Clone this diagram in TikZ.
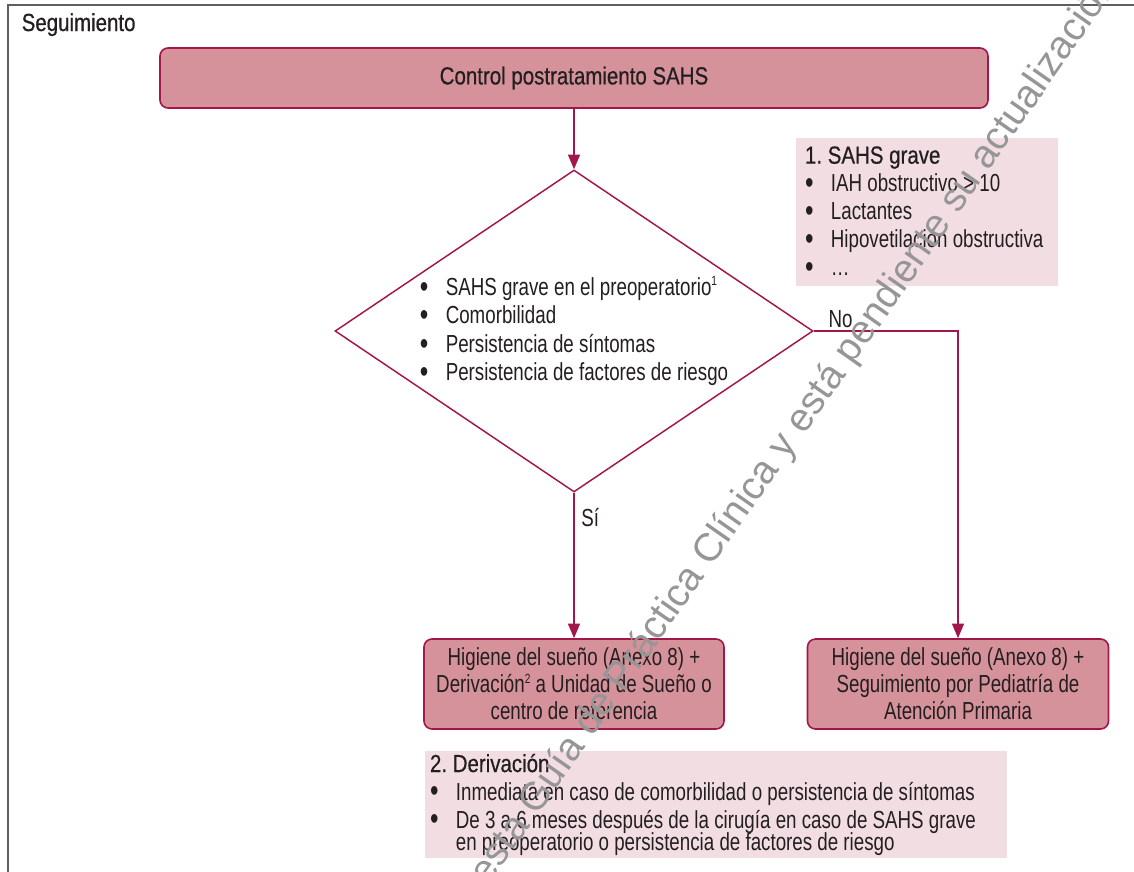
\documentclass[tikz,border=0pt]{standalone}
\usepackage{fontspec}
\setmainfont{Liberation Sans}[FakeStretch=0.76]
\newfontfamily\headfont{Liberation Sans}[FakeStretch=0.83,FakeBold=0.6]
\newfontfamily\wmfont{Liberation Sans}
\usepackage{xcolor}
\usetikzlibrary{shapes.geometric,arrows.meta}
\definecolor{boxfill}{RGB}{214,146,155}
\definecolor{boxline}{RGB}{163,22,76}
\definecolor{notefill}{RGB}{242,222,226}
\definecolor{txt}{RGB}{35,31,32}
\definecolor{frameline}{RGB}{95,95,95}
\definecolor{wmark}{RGB}{150,150,150}
\newcommand{\itm}{\makebox[1.05em][l]{\raisebox{-0.15ex}{\fontsize{24}{24}\selectfont\textbullet}}}
\newcommand{\sups}[1]{\raisebox{0.75ex}{\fontsize{10}{10}\selectfont #1}}
\newcommand{\bodysize}{\fontsize{18.5}{20.25}\selectfont}
\frenchspacing

\begin{document}
\begin{tikzpicture}[x=0.75pt,y=0.75pt,yscale=-1,xscale=1,
  every node/.style={text=txt},
  procbox/.style={draw=boxline,fill=boxfill,line width=1.2pt,rounded corners=6pt,align=center,inner sep=0pt,font=\bodysize},
  notebox/.style={fill=notefill,align=flush left,inner sep=0pt,font=\fontsize{18.5}{21}\selectfont},
  decision/.style={diamond,draw=boxline,line width=1.1pt,inner sep=0pt,minimum width=358.5pt,minimum height=241.5pt},
  flow/.style={draw=boxline,line width=1.1pt,-{Triangle[length=11pt,width=9pt]}}]
\useasboundingbox (0,0) rectangle (1134,871);
\fill[white] (0,0) rectangle (1134,871);

%Shape: Frame
\draw[frameline,line width=1.1pt] (8,890) -- (8,5) -- (1150,5);

% Text Node
\node[anchor=base west,font=\headfont\fontsize{18.5}{20}\selectfont] (seg) at (17,31) {Seguimiento};

%Shape: Rounded Rectangle
\node[procbox,minimum width=621pt,minimum height=45pt,font=\headfont\fontsize{18.5}{20}\selectfont] (ctrl) at (574,78) {Control postratamiento SAHS};

%Shape: Diamond
\node[decision] (chk) at (574,331) {};
% Text Node
\node[align=left,inner sep=0pt,font=\fontsize{18.5}{21.4}\selectfont] (crit) at (574,331) {\itm SAHS grave en el preoperatorio\sups{1}\\
\itm Comorbilidad\\
\itm Persistencia de síntomas\\
\itm Persistencia de factores de riesgo};

%Shape: Rounded Rectangle
\node[procbox,minimum width=225pt,minimum height=67.5pt] (hig1) at (574,684) {Higiene del sueño (Anexo 8) +\\
Derivación\sups{2} a Unidad de Sueño o\\
centro de referencia};
%Shape: Rounded Rectangle
\node[procbox,minimum width=225.75pt,minimum height=67.5pt] (hig2) at (958,684) {Higiene del sueño (Anexo 8) +\\
Seguimiento por Pediatría de\\
Atención Primaria};

%Shape: Note
\node[notebox,minimum width=196.5pt,minimum height=111pt,text width=183pt] (nota1) at (927,212) {{\headfont 1. SAHS grave}\\
\itm IAH obstructivo > 10\\
\itm Lactantes\\
\itm Hipovetilación obstructiva\\
\itm …};
%Shape: Note
\node[notebox,minimum width=436.5pt,minimum height=80.25pt,text width=429pt] (nota2) at (716,804.5) {{\headfont 2. Derivación}\\
\itm Inmediata en caso de comorbilidad o persistencia de síntomas\\
\itm De 3 a 6 meses después de la cirugía en caso de SAHS grave\\[-4.5pt]
\hspace*{1.05em}en preoperatorio o persistencia de factores de riesgo};

%Straight Lines
\draw[flow] (ctrl) -- (chk);
\draw[flow] (chk.south) -- node[right,pos=0.17,font=\bodysize,inner sep=5pt] (si) {Sí} (hig1);
\draw[flow] (chk.east) -| node[above,pos=0.093,font=\bodysize,inner sep=2pt] (no) {No} (hig2);

% Text Node
\node[rotate=55,text=wmark,font=\wmfont\fontsize{29.5}{32}\selectfont] (wm) at (795,430) {esta Guía de Práctica Clínica y está pendiente su actualización};

\end{tikzpicture}
\end{document}
